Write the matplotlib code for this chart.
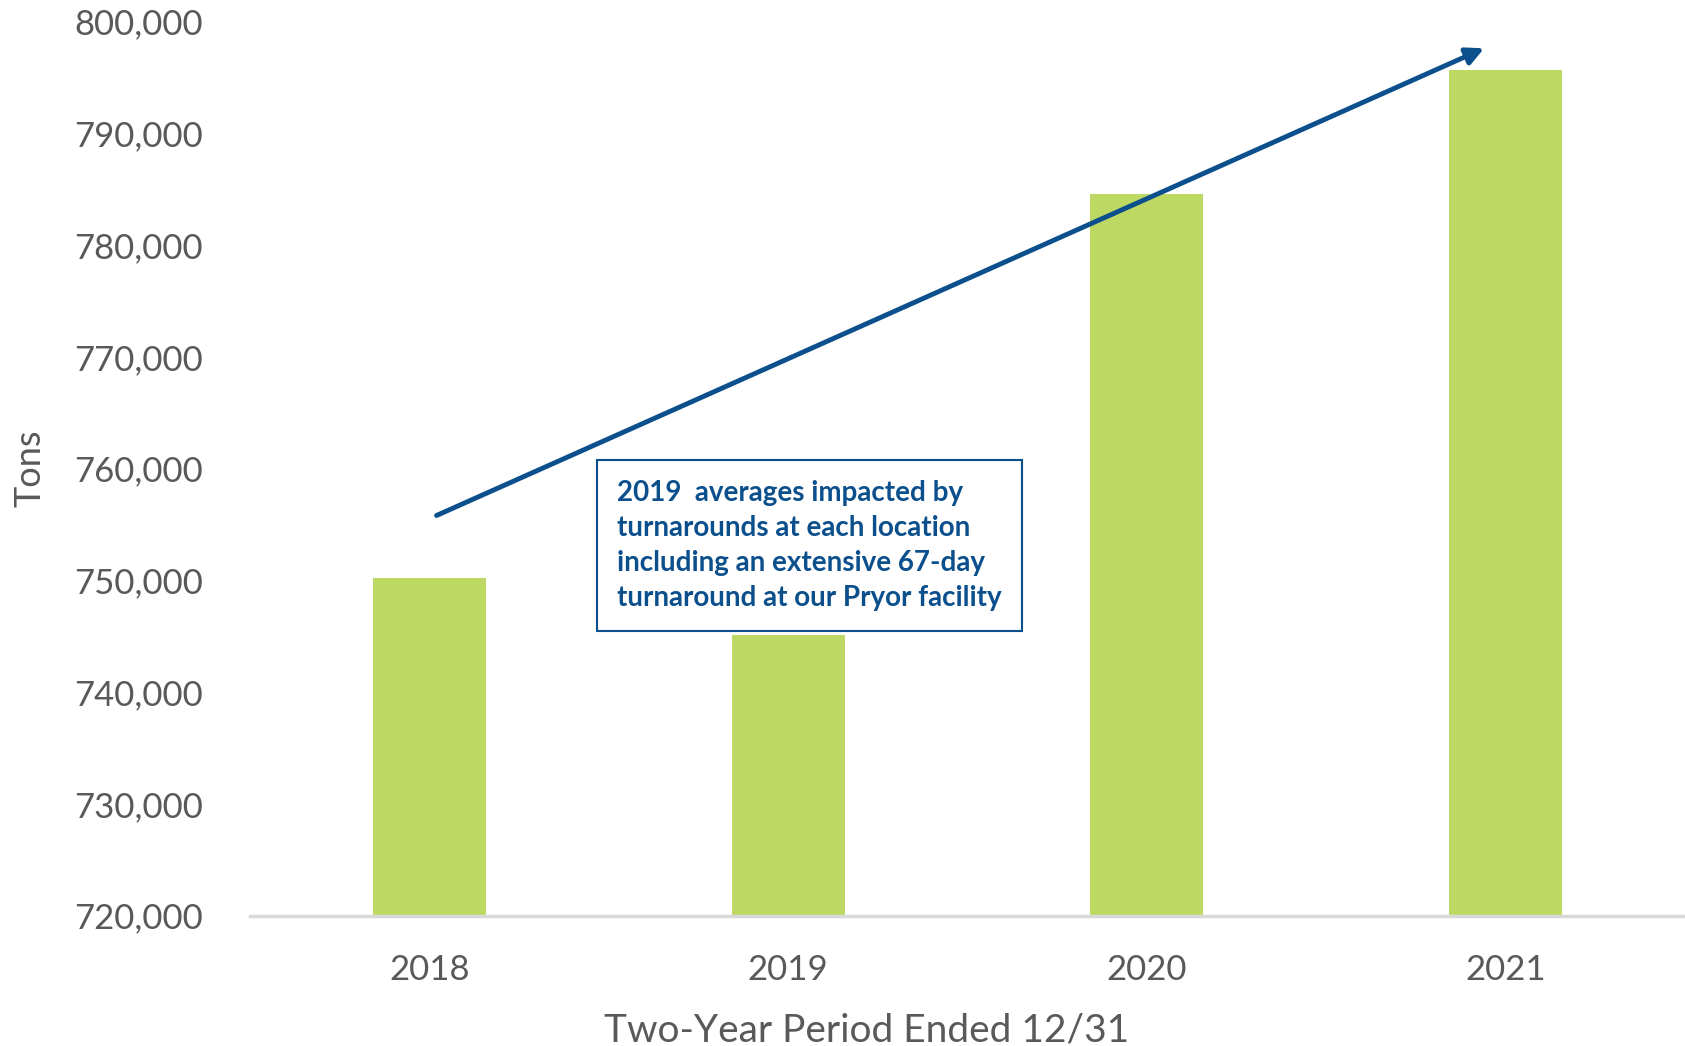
import matplotlib.pyplot as plt
from matplotlib.patches import FancyArrowPatch

# -------------------------
# Data
# -------------------------
years = ["2018", "2019", "2020", "2021"]
tons = [750200, 745100, 784600, 795700]
y_ticks = [720000, 730000, 740000, 750000, 760000, 770000, 780000, 790000, 800000]

# trend arrow (category position, tons)
arrow_start = (0.02, 755800)
arrow_end = (2.94, 797600)

note = ("2019  averages impacted by\n"
        "turnarounds at each location\n"
        "including an extensive 67-day\n"
        "turnaround at our Pryor facility")

bar_color = "#BDD963"
blue = "#0B4F8C"
grey = "#595959"

plt.rcParams["font.family"] = ["Lato", "DejaVu Sans"]

fig = plt.figure(figsize=(16.85, 10.46), dpi=100)
ax = fig.add_axes([250 / 1685, 1 - 915.6 / 1046, (1685 - 250) / 1685, (915.6 - 21.5) / 1046])

x = range(len(years))
ax.bar(x, tons, width=0.315, color=bar_color, zorder=2)

ax.set_ylim(720000, 800000)
ax.set_xlim(-0.5, 3.5)
ax.set_yticks(y_ticks)
ax.set_yticklabels([f"{v:,}" for v in y_ticks])
ax.set_xticks(list(x))
ax.set_xticklabels(years)
ax.tick_params(axis="both", length=0, labelsize=25, colors=grey)
ax.tick_params(axis="x", pad=28)
ax.tick_params(axis="y", pad=34)

for s in ["top", "right", "left"]:
    ax.spines[s].set_visible(False)
ax.spines["bottom"].set_color("#D9D9D9")
ax.spines["bottom"].set_linewidth(2.5)
ax.spines["bottom"].set_zorder(3)

ax.set_ylabel("Tons", fontsize=26, color=grey)
ax.yaxis.set_label_coords(-0.142, 0.5)
ax.set_xlabel("Two-Year Period Ended 12/31", fontsize=28, color=grey)
ax.xaxis.set_label_coords(0.43, -0.108)

arrow = FancyArrowPatch(arrow_start, arrow_end, arrowstyle="-|>", mutation_scale=26,
                        color=blue, linewidth=3.5, zorder=4, shrinkA=0, shrinkB=0)
ax.add_patch(arrow)

ax.text(0.256, 0.487, note, transform=ax.transAxes, fontsize=20, fontweight="bold",
        color=blue, va="top", ha="left", linespacing=1.42,
        bbox=dict(boxstyle="square,pad=0.72", facecolor="white", edgecolor=blue, linewidth=1.5),
        zorder=5)

plt.savefig("out.png", dpi=100)
